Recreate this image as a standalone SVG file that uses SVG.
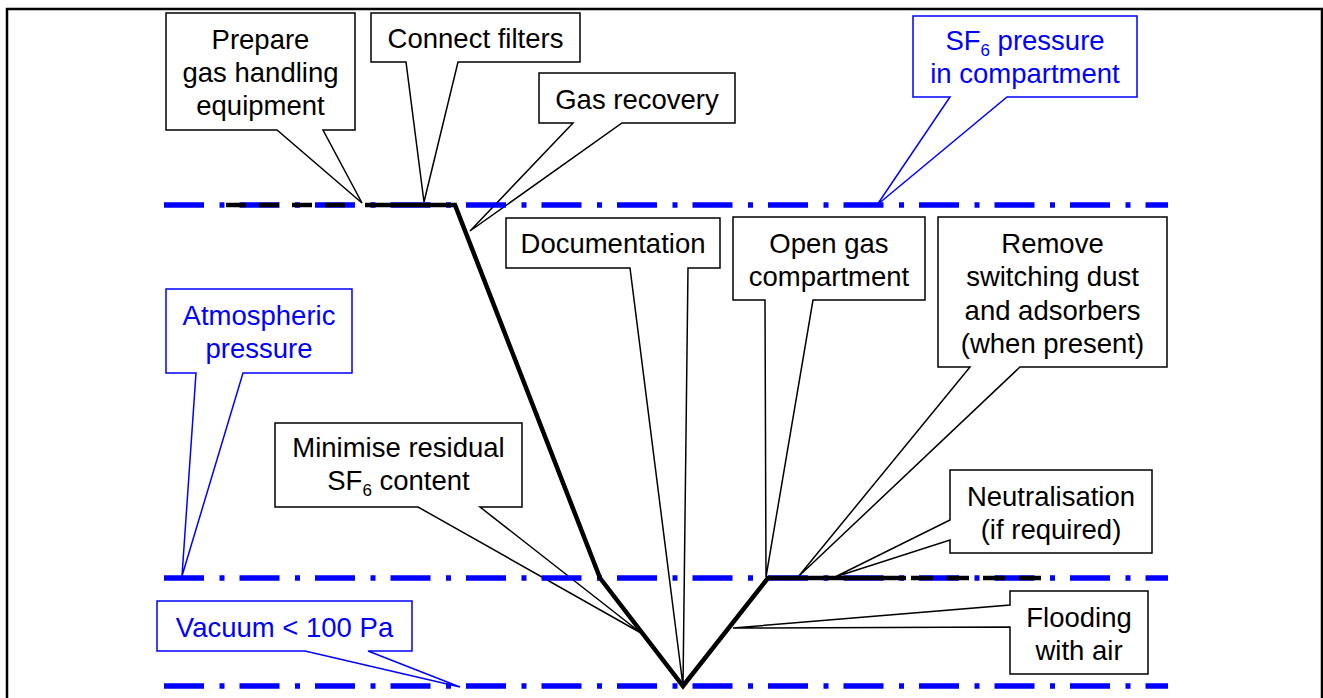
<svg xmlns="http://www.w3.org/2000/svg" width="1323" height="698" viewBox="0 0 1323 698">
  <style>
    .lbl { font-family: "Liberation Sans", Arial, sans-serif; font-size: 27.5px; text-anchor: middle; fill: #000; }
    .lbl.blue { fill: #0000ff; }
    .sub { font-size: 17px; }
    .call { fill: #fff; stroke: #000; stroke-width: 1.5; stroke-linejoin: miter; }
    .call.blue { stroke: #0000ff; }
    .level { fill: none; stroke: #0000ff; stroke-width: 5.5; stroke-dasharray: 40 15.5 5 15; }
    .proc { fill: none; stroke: #000; stroke-width: 4.5; stroke-linejoin: miter; }
  </style>

  <!-- frame -->
  <rect x="7" y="9" width="1315" height="700" fill="none" stroke="#000" stroke-width="2.5"/>

  <!-- callouts: box with wedge tail -->
  <g id="prepare">
    <path class="call" d="M166,13 H355 V130 H323 L362,203 L277,130 H166 Z"/>
    <text class="lbl" x="260.5" y="49">Prepare</text>
    <text class="lbl" x="260.5" y="82">gas handling</text>
    <text class="lbl" x="260.5" y="115">equipment</text>
  </g>
  <g id="connect-filters">
    <path class="call" d="M371,13 H580 V62 H458 L424,202 L406,62 H371 Z"/>
    <text class="lbl" x="475.5" y="48">Connect filters</text>
  </g>
  <g id="gas-recovery">
    <path class="call" d="M539,73 H735 V123 H622 L470,231 L573,123 H539 Z"/>
    <text class="lbl" x="637" y="109">Gas recovery</text>
  </g>
  <g id="sf6-pressure">
    <path class="call blue" d="M913,16 H1137 V97 H1007 L877,205 L950,97 H913 Z"/>
    <text class="lbl blue" x="1025" y="50">SF<tspan class="sub" dy="6">6</tspan><tspan dy="-6"> pressure</tspan></text>
    <text class="lbl blue" x="1025" y="83">in compartment</text>
  </g>
  <g id="documentation">
    <path class="call" d="M506,218 H720 V268 H688 L683,686 L630,268 H506 Z"/>
    <text class="lbl" x="613" y="253">Documentation</text>
  </g>
  <g id="open-gas">
    <path class="call" d="M733,217 H925 V300 H813 L766,577 L765,300 H733 Z"/>
    <text class="lbl" x="829" y="253">Open gas</text>
    <text class="lbl" x="829" y="286">compartment</text>
  </g>
  <g id="remove-dust">
    <path class="call" d="M938,217 H1167 V367 H1020 L798,577 L970,367 H938 Z"/>
    <text class="lbl" x="1052.5" y="253">Remove</text>
    <text class="lbl" x="1052.5" y="286">switching dust</text>
    <text class="lbl" x="1052.5" y="320">and adsorbers</text>
    <text class="lbl" x="1052.5" y="353">(when present)</text>
  </g>
  <g id="atmospheric">
    <path class="call blue" d="M166,289 H352 V373 H243 L182,576 L196,373 H166 Z"/>
    <text class="lbl blue" x="259" y="325">Atmospheric</text>
    <text class="lbl blue" x="259" y="358">pressure</text>
  </g>
  <g id="minimise">
    <path class="call" d="M275,423 H522 V507 H480 L641,633 L418,507 H275 Z"/>
    <text class="lbl" x="398.5" y="457">Minimise residual</text>
    <text class="lbl" x="398.5" y="490">SF<tspan class="sub" dy="6">6</tspan><tspan dy="-6"> content</tspan></text>
  </g>
  <g id="neutralisation">
    <path class="call" d="M950,470 H1152 V553 H950 V540 L835,577 L950,520 Z"/>
    <text class="lbl" x="1051" y="506">Neutralisation</text>
    <text class="lbl" x="1051" y="539">(if required)</text>
  </g>
  <g id="flooding">
    <path class="call" d="M1010,591 H1148 V674 H1010 V627 L733,628 L1010,605 Z"/>
    <text class="lbl" x="1079" y="627">Flooding</text>
    <text class="lbl" x="1079" y="660">with air</text>
  </g>
  <g id="vacuum">
    <path class="call blue" d="M157,601 H412 V651 H368 L460,687 L305,651 H157 Z"/>
    <text class="lbl blue" x="284.5" y="637">Vacuum &lt; 100 Pa</text>
  </g>

  <!-- pressure levels -->
  <g id="levels">
    <path class="level" d="M164,205 H1168"/>
    <path class="level" d="M164,578 H1168"/>
    <path class="level" d="M164,686 H1168"/>
  </g>

  <!-- pressure course through the procedure -->
  <g id="connectors">
    <path class="proc" d="M226,205 H346" stroke-dasharray="20 13"/>
    <path class="proc" d="M365,205 H455 L600,578 L683,686 L768,578 H906"/>
    <path class="proc" d="M911,578 H1041" stroke-dasharray="22 14"/>
  </g>
</svg>
